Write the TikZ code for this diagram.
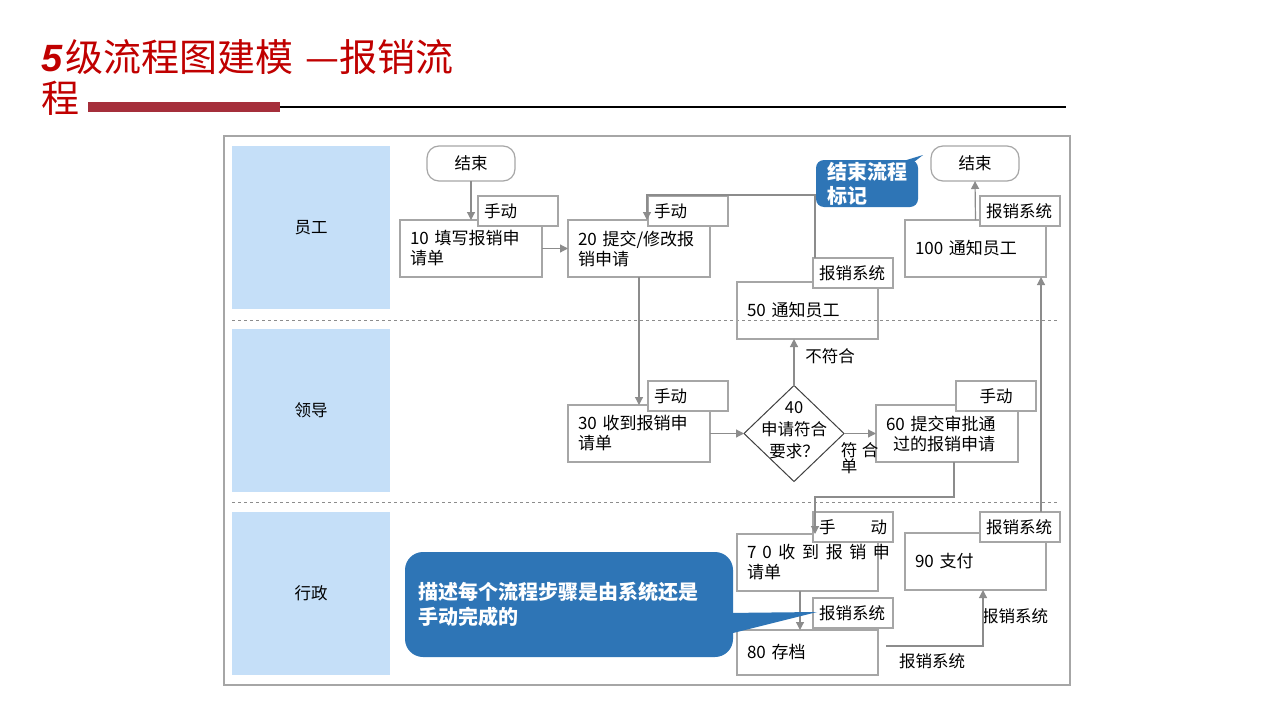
\documentclass[tikz,border=0pt]{standalone}
\usepackage{fontspec}
\setmainfont{Noto Sans CJK SC}
\newfontfamily\latinfont{Liberation Sans}
\usetikzlibrary{arrows.meta,shapes.geometric,calc}
\definecolor{titlered}{HTML}{C00000}
\definecolor{barred}{HTML}{A52F3B}
\definecolor{lane}{HTML}{C5DFF8}
\definecolor{callblue}{HTML}{2E75B6}
\definecolor{boxgray}{HTML}{A6A6A6}
\definecolor{linegray}{HTML}{8C8C8C}
\definecolor{diagray}{HTML}{404040}
\begin{document}
\begin{tikzpicture}[x=1pt,y=-1pt,
 every node/.style={inner sep=0pt, outer sep=0pt},
 box/.style={draw=boxgray, line width=1.2pt, minimum width=142pt, minimum height=57pt, text width=122pt, inner xsep=10pt, align=left, font=\fontsize{17}{20}\selectfont},
 tag/.style={draw=boxgray, fill=white, line width=1.2pt, minimum width=80pt, minimum height=30pt, text width=68pt, inner xsep=6pt, align=left, font=\fontsize{16.5}{18}\selectfont},
 term/.style={draw=boxgray, rounded corners=12pt, minimum width=88pt, minimum height=35pt, font=\fontsize{16.5}{18}\selectfont, line width=1.2pt},
 conn/.style={draw=linegray, line width=1.2pt, -{Triangle[width=8pt,length=8pt]}},
 lanebox/.style={fill=lane, minimum width=158pt, minimum height=163pt, font=\fontsize{16.5}{18}\selectfont},
 lbl/.style={font=\fontsize{16.5}{18}\selectfont},
 callout/.style={fill=callblue, text=white, align=left, font=\bfseries\fontsize{20}{24}\selectfont}
]
\useasboundingbox (0,0) rectangle (1280,720);
\fill[white] (0,0) rectangle (1280,720);

% title
\node[anchor=west, text=titlered, font=\fontsize{38}{42}\selectfont] (title1) at (41,57) {{\latinfont\bfseries\itshape 5}\hspace{3pt}级流程图建模\hspace{4pt} —报销流};
\node[anchor=west, text=titlered, font=\fontsize{38}{42}\selectfont] (title2) at (41,98) {程};
\fill[barred] (88,102) rectangle (280,112);
\draw[black, line width=1.8pt] (280,107) -- (1066,107);

% frame and lanes
\draw[boxgray, line width=1.5pt] (224,136) rectangle (1070,685);
\node[lanebox] (L1) at (311,227.5) {员工};
\node[lanebox] (L2) at (311,410) {领导};
\node[lanebox] (L3) at (311,593.5) {行政};
\draw[linegray, dashed, line width=0.8pt] (232,320) -- (1058,320);
\draw[linegray, dashed, line width=0.8pt] (232,502) -- (1058,502);

% terminals
\node[term] (end1) at (471,163.5) {结束};
\node[term] (end2) at (975,163.5) {结束};

% boxes
\node[box] (b10) at (471,248.5) {10 填写报销申\\请单};
\node[box] (b20) at (639,248.5) {20 提交/修改报\\销申请};
\node[box] (b30) at (639,433.5) {30 收到报销申\\请单};
\node[box, minimum width=141pt, text width=121pt] (b50) at (807.5,310.5) {50 通知员工};
\node[box] (b60) at (947,433.5) {60 提交审批通\\\hspace*{7pt}过的报销申请};
\node[box, minimum width=141pt, text width=121pt] (b70) at (807.5,562.5) {\makebox[143pt][l]{7\hspace{6pt}0\hfill{}收\hfill{}到\hfill{}报\hfill{}销\hfill{}申}\\请单};
\node[box, minimum width=141pt, text width=121pt, minimum height=45pt] (b80) at (807.5,652.5) {80 存档};
\node[box, minimum width=141pt, text width=121pt] (b90) at (975.5,561.5) {90 支付};
\node[box, minimum width=141pt, text width=121pt] (b100) at (975.5,248.5) {100 通知员工};

% decision
\node[diamond, draw=diagray, line width=1pt, minimum width=100pt, minimum height=96pt] (d40) at (794,433.5) {};
\node[align=center, font=\fontsize{16.5}{22}\selectfont] (d40t) at (794,430) {40\\申请符合\\要求？};

% tags
\node[tag] (t10) at (518,211) {手动};
\node[tag] (t20) at (688,211) {手动};
\node[tag] (t30) at (688,396) {手动};
\node[tag] (t50) at (853,273) {报销系统};
\node[tag, align=center] (t60) at (996,396) {手动};
\node[tag] (t70) at (853,527) {\makebox[68pt]{手\hfill{}动}};
\node[tag] (t80) at (853,613) {报销系统};
\node[tag] (t90) at (1020,527) {报销系统};
\node[tag] (t100) at (1020,211) {报销系统};

% labels
\node[lbl] (lno) at (830,356) {不符合};
\node[lbl] (lfu) at (849,450) {符};
\node[lbl] (lhe) at (870,450) {合};
\node[lbl] (ldan) at (849,466) {单};
\node[lbl] (ls1) at (932,661) {报销系统};
\node[lbl] (ls2) at (1015,616) {报销系统};

% connectors
\draw[conn] (end1.south) -- (b10.north);
\draw[conn] (b10.east) -- (b20.west);
\draw[conn] (b20.south) -- (b30.north);
\draw[conn] (b30.east) -- (d40.west);
\draw[conn] (d40.east) -- (b60.west);
\draw[conn] (d40.north) -- (d40.north |- b50.south);
\draw[conn] ($(t50.north west)+(2,0)$) |- ($(b20.north west)+(79,-25)$) -- ($(b20.north west)+(79,0)$);
\draw[conn] ($(b60.south)+(7,0)$) -- ++(0,35) -| ($(b70.north west)+(78,0)$);
\draw[conn] ($(b70.south west)+(63,0)$) -- ($(b80.north west)+(63,0)$);
\draw[conn] ($(b80.east)+(8,-6.5)$) -| ($(b90.south west)+(78,0)$);
\draw[conn] ($(t90.north west)+(61,0)$) -- ($(b100.south west)+(136,0)$);
\draw[conn] (b100.north) -- (end2.south);

% callouts
\fill[callblue] (900,162) -- (923,155) -- (914,162) -- cycle;
\node[callout, rounded corners=8pt, minimum width=102pt, minimum height=47pt, text width=80pt, inner xsep=11pt] (co1) at (867,183.5) {结束流程\\标记};
\fill[callblue] (725,613) -- (817,612) -- (725,635) -- cycle;
\node[callout, rounded corners=18pt, minimum width=328pt, minimum height=105pt, text width=302pt, inner xsep=13pt, font=\bfseries\fontsize{20}{25}\selectfont] (co2) at (569,604.5) {描述每个流程步骤是由系统还是\\手动完成的};
\end{tikzpicture}
\end{document}
